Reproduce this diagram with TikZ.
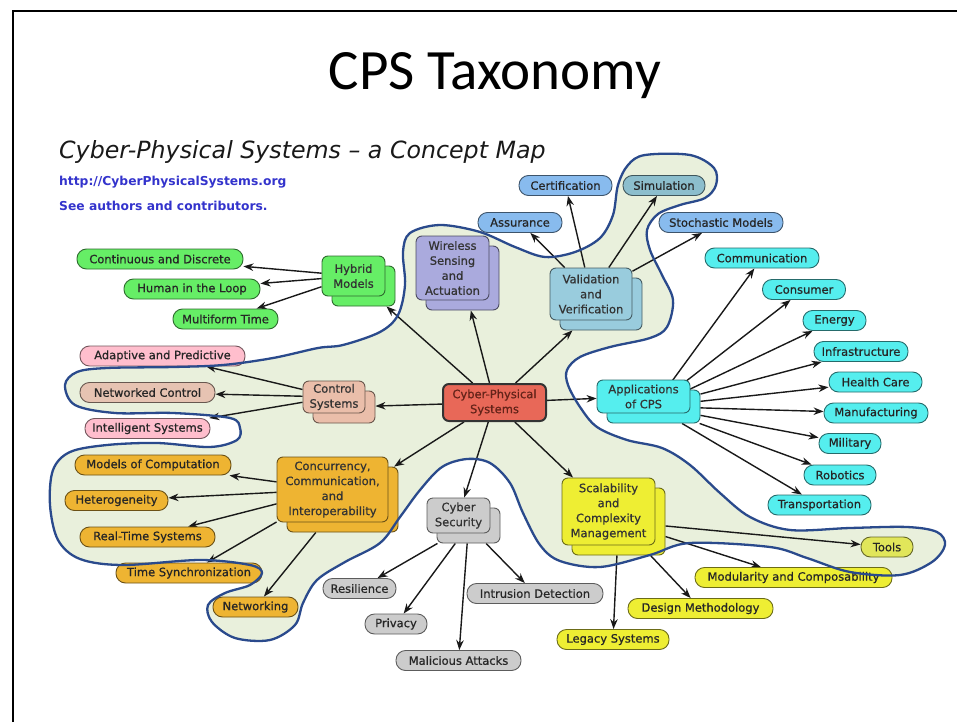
\documentclass[tikz,border=0pt]{standalone}
\usepackage{fontspec}
\usetikzlibrary{arrows.meta}
\newfontfamily\dv{DejaVu Sans}
\newfontfamily\dvb[FakeBold=0.7]{DejaVu Sans}
\newfontfamily\titlefont{Carlito}
\newcommand\lbl{\dvb\fontsize{11.5}{14.5}\selectfont}
\newcommand\clbl{\dvb\fontsize{11.5}{15}\selectfont}
\definecolor{grn}{RGB}{102,238,102}
\definecolor{lav}{RGB}{170,170,221}
\definecolor{vvb}{RGB}{153,204,221}
\definecolor{blu}{RGB}{136,187,238}
\definecolor{simc}{RGB}{140,190,205}
\definecolor{cyn}{RGB}{85,238,238}
\definecolor{cpsred}{RGB}{232,104,88}
\definecolor{ctltan}{RGB}{234,190,170}
\definecolor{pnk}{RGB}{255,190,205}
\definecolor{nctan}{RGB}{230,195,178}
\definecolor{org}{RGB}{238,180,50}
\definecolor{gry}{RGB}{204,204,204}
\definecolor{ylw}{RGB}{238,238,51}
\definecolor{tooly}{RGB}{225,230,90}
\definecolor{blobfill}{RGB}{233,240,220}
\definecolor{blobline}{RGB}{42,74,140}
\definecolor{linkblue}{RGB}{51,51,204}
\definecolor{cpstext}{RGB}{100,35,25}
\pgfdeclarelayer{bg}
\pgfdeclarelayer{fg}
\pgfsetlayers{bg,main,fg}
\tikzset{
  pill/.style={rectangle, rounded corners=9.5pt, minimum height=20pt, inner sep=0pt,
    fill=#1, draw=#1!45!black, line width=0.9pt, font=\lbl, text=black!85},
  cbox/.style={rectangle, rounded corners=6pt, inner sep=0pt, fill=#1,
    draw=#1!45!black, line width=0.9pt, font=\clbl, align=center, text=black!80},
  arr/.style={-{Stealth[length=10pt,width=7.5pt]}, line width=1.4pt, draw=black!90},
  blobout/.style={draw=blobline, line width=2.3pt},
  blobin/.style={fill=blobfill},
}
% concept node with its copy behind: name, x, y, w, h, colour, text
\newcommand\cpt[7]{%
  \node[cbox=#6, minimum width=#4pt, minimum height=#5pt] (#1s) at (#2+10,#3+10) {};
  \node[cbox=#6, minimum width=#4pt, minimum height=#5pt] (#1) at (#2,#3) {#7};}
\newcommand\blobpath[1]{%
  \path[#1] plot[smooth cycle, tension=0.55] coordinates {
  (343,345) (380,332) (398,315) (405,285) (403,252) (410,233) (440,225) (480,232)
  (515,247) (545,257) (575,252) (600,238) (613,215) (618,185) (628,165) (645,155)
  (690,155) (714,168) (716,185) (705,198) (680,205) (658,214) (647,230) (650,250)
  (662,275) (673,300) (667,327) (650,338) (610,347) (580,357) (567,370) (568,385)
  (580,407) (597,427) (627,440) (662,448) (690,465) (720,493) (750,517) (790,530)
  (850,528) (907,527) (937,532) (945,545) (932,562) (900,575) (850,572) (807,558)
  (770,547) (690,543) (650,555) (600,567) (560,561) (540,545) (523,513) (510,483)
  (490,463) (467,459) (442,467) (420,490) (400,517) (380,543) (345,562) (317,580)
  (303,603) (295,625) (270,640) (235,638) (212,622) (208,605) (225,593) (250,585)
  (262,573) (250,565) (200,560) (123,565) (80,559) (58,540) (50,505) (53,470)
  (70,452) (107,445) (157,443) (210,447) (237,440) (240,428) (230,418) (173,413)
  (115,413) (75,405) (65,385) (77,372) (107,368) (173,367) (223,365) (273,358)
  (318,348)};}
\begin{document}
\begin{tikzpicture}[x=1pt,y=-1pt]
\useasboundingbox (0,0) rectangle (957,722);
% slide frame
\draw[line width=2.2pt] (13,722) -- (13,11) -- (957,11);
% title and header
\node[font=\titlefont\fontsize{57}{60}\selectfont, anchor=base, inner sep=0pt] (title) at (495,90) {CPS Taxonomy};
\node[font=\dv\itshape\fontsize{23.7}{26}\selectfont, anchor=base west, inner sep=0pt, text=black!90] (hdr) at (59,159) {Cyber-Physical Systems – a Concept Map};
\node[font=\dv\bfseries\fontsize{12.3}{14}\selectfont, anchor=base west, inner sep=0pt, text=linkblue] (url) at (59,185.7) {http://CyberPhysicalSystems.org};
\node[font=\dv\bfseries\fontsize{12.3}{14}\selectfont, anchor=base west, inner sep=0pt, text=linkblue] (auth) at (59,210.7) {See authors and contributors.};
% highlighted region (fill)
\begin{pgfonlayer}{bg}
\blobpath{blobin}
\end{pgfonlayer}
% centre
\node[cbox=cpsred, minimum width=103pt, minimum height=37pt, line width=2pt, draw=black!80, text=cpstext] (cps) at (494.5,402.5) {Cyber-Physical\\Systems};
% concept nodes
\cpt{hyb}{353.5}{276}{63}{40}{grn}{Hybrid\\Models}
\cpt{wsa}{452.5}{268}{73}{64}{lav}{Wireless\\Sensing\\and\\Actuation}
\cpt{vv}{591}{294}{82}{52}{vvb}{Validation\\and\\Verification}
\cpt{app}{643.5}{396.5}{93}{33}{cyn}{Applications\\of CPS}
\cpt{ctl}{334}{397}{62}{32}{ctltan}{Control\\Systems}
\cpt{ccc}{332.5}{489.5}{111}{65}{org}{Concurrency,\\Communication,\\and\\Interoperability}
\cpt{sec}{458.5}{515.5}{63}{35}{gry}{Cyber\\Security}
\cpt{scm}{608.5}{511.5}{93}{67}{ylw}{Scalability\\and\\Complexity\\Management}
% leaves: hybrid models
\node[pill=grn, minimum width=166pt] (cd) at (160,259) {Continuous and Discrete};
\node[pill=grn, minimum width=136pt] (hl) at (192,289) {Human in the Loop};
\node[pill=grn, minimum width=105pt] (mt) at (225.5,319) {Multiform Time};
% leaves: validation
\node[pill=blu, minimum width=93pt] (cert) at (565.5,185.5) {Certification};
\node[pill=simc, minimum width=82pt] (sim) at (664,185.5) {Simulation};
\node[pill=blu, minimum width=84pt] (asr) at (520,222.5) {Assurance};
\node[pill=blu, minimum width=124pt] (stoch) at (721,222.5) {Stochastic Models};
% leaves: applications
\node[pill=cyn, minimum width=114pt] (comm) at (762,258) {Communication};
\node[pill=cyn, minimum width=83pt] (cons) at (804,289.5) {Consumer};
\node[pill=cyn, minimum width=63pt] (ener) at (834.5,320.5) {Energy};
\node[pill=cyn, minimum width=94pt] (infra) at (861,351.5) {Infrastructure};
\node[pill=cyn, minimum width=93pt] (hc) at (875.5,382) {Health Care};
\node[pill=cyn, minimum width=104pt] (manu) at (876,413) {Manufacturing};
\node[pill=cyn, minimum width=62pt] (mil) at (850,443.5) {Military};
\node[pill=cyn, minimum width=72pt] (rob) at (840,475) {Robotics};
\node[pill=cyn, minimum width=103pt] (trans) at (819.5,505) {Transportation};
% leaves: control
\node[pill=pnk, minimum width=165pt] (ap) at (162.5,356) {Adaptive and Predictive};
\node[pill=nctan, minimum width=135pt] (nc) at (147.5,392.5) {Networked Control};
\node[pill=pnk, minimum width=125pt] (is) at (147.5,428.5) {Intelligent Systems};
% leaves: concurrency
\node[pill=org, minimum width=156pt] (mc) at (153,465) {Models of Computation};
\node[pill=org, minimum width=103pt] (het) at (116.5,500.5) {Heterogeneity};
\node[pill=org, minimum width=135pt] (rts) at (147.5,537) {Real-Time Systems};
\node[pill=org, minimum width=146pt] (ts) at (189,573) {Time Synchronization};
\node[pill=org, minimum width=85pt] (net) at (255.5,607) {Networking};
% leaves: security
\node[pill=gry, minimum width=73pt] (res) at (359.5,588.5) {Resilience};
\node[pill=gry, minimum width=62pt] (prv) at (396,624) {Privacy};
\node[pill=gry, minimum width=125pt] (mal) at (458.5,660.5) {Malicious Attacks};
\node[pill=gry, minimum width=136pt] (ids) at (535,593.5) {Intrusion Detection};
% leaves: scalability
\node[pill=tooly, minimum width=52pt] (tools) at (887,547) {Tools};
\node[pill=ylw, minimum width=197pt] (mod) at (793.5,577.5) {Modularity and Composability};
\node[pill=ylw, minimum width=145pt] (dm) at (700.5,608.5) {Design Methodology};
\node[pill=ylw, minimum width=112pt] (leg) at (613,639.5) {Legacy Systems};
% connectors
\begin{pgfonlayer}{bg}
\draw[arr] (cps) -- (hybs);
\draw[arr] (cps) -- (wsas);
\draw[arr] (cps) -- (vvs);
\draw[arr] (cps) -- (app);
\draw[arr] (cps) -- (ctls);
\draw[arr] (cps) -- (cccs);
\draw[arr] (cps) -- (sec);
\draw[arr] (cps) -- (scm);
\draw[arr] (hyb) -- (cd);
\draw[arr] (hyb) -- (hl);
\draw[arr] (hyb) -- (mt);
\draw[arr] (vv) -- (asr);
\draw[arr] (vv) -- (cert);
\draw[arr] (vv) -- (sim);
\draw[arr] (vv) -- (stoch);
\foreach \t in {comm,cons,ener,infra,hc,manu,mil,rob,trans}
  \draw[arr] (apps) -- (\t);
\draw[arr] (ctl) -- (ap);
\draw[arr] (ctl) -- (nc);
\draw[arr] (ctl) -- (is);
\draw[arr] (ccc) -- (mc);
\draw[arr] (ccc) -- (het);
\draw[arr] (ccc) -- (rts);
\draw[arr] (ccc) -- (ts);
\draw[arr] (cccs) -- (net);
\draw[arr] (secs) -- (res);
\draw[arr] (secs) -- (prv);
\draw[arr] (secs) -- (mal);
\draw[arr] (secs) -- (ids);
\draw[arr] (scms) -- (tools);
\draw[arr] (scms) -- (mod);
\draw[arr] (scms) -- (dm);
\draw[arr] (scms) -- (leg);
\end{pgfonlayer}
% highlighted region (outline)
\begin{pgfonlayer}{fg}
\blobpath{blobout}
\end{pgfonlayer}
\end{tikzpicture}
\end{document}
